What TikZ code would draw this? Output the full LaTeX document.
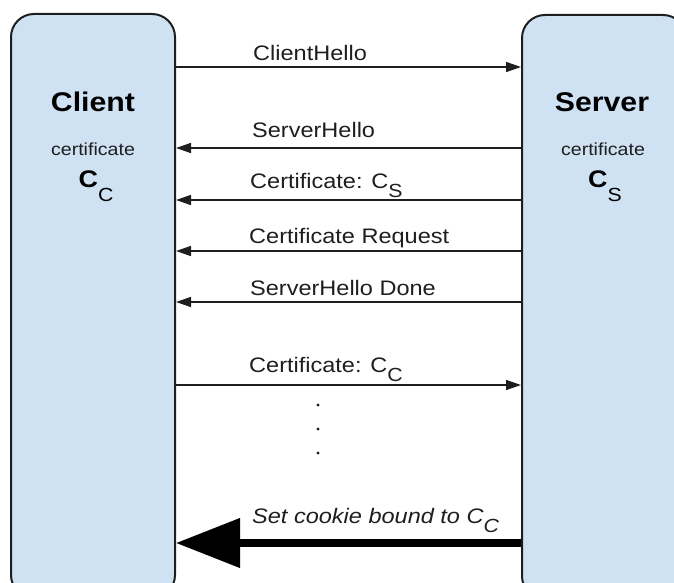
\documentclass[tikz,border=0pt]{standalone}
\usepackage{fontspec}
\setmainfont{Liberation Sans}[FakeStretch=1.12]
\usetikzlibrary{arrows.meta}

\definecolor{partyblue}{HTML}{CFE2F3}
\definecolor{inkgrey}{HTML}{1E1E1E}

% lowered subscript used in the message labels
\newcommand{\lowsub}[1]{\raisebox{-9pt}{\fontsize{19}{19}\selectfont #1}}

\begin{document}
\begin{tikzpicture}[x=1pt,y=-1pt,
    party/.style={draw=inkgrey, line width=2pt, fill=partyblue, rounded corners=23pt,
      minimum width=164pt, minimum height=584pt, inner sep=0pt},
    msg/.style={draw=inkgrey, line width=1.5pt, -{Triangle[length=15pt,width=10pt]}},
    bigmsg/.style={draw=black, line width=7.5pt, -{Triangle[length=64pt,width=48pt]}},
    msglabel/.style={anchor=base west, inner sep=0pt, text=inkgrey, font=\fontsize{21}{21}\selectfont},
    partyname/.style={anchor=base, inner sep=0pt, text=black, font=\bfseries\fontsize{27}{27}\selectfont},
    partycert/.style={anchor=base, inner sep=0pt, text=inkgrey, font=\fontsize{17.5}{17.5}\selectfont},
    partykey/.style={anchor=base, inner sep=0pt, text=black}
  ]
  \useasboundingbox (0,0) rectangle (674,583);
  \clip (0,0) rectangle (674,583);

  % the two parties
  \node[party] (client) at (93,306) {};
  \node[party] (server) at (604,307) {};

  \node[partyname] (clientname) at (93,111) {Client};
  \node[partycert] (clientcert) at (93,155) {certificate};
  \node[partykey] (clientkey) at (96,187)
    {{\bfseries\fontsize{24}{24}\selectfont C}\raisebox{-14pt}{\fontsize{19}{19}\selectfont C}};

  \node[partyname] (servername) at (602,111) {Server};
  \node[partycert] (servercert) at (603,155) {certificate};
  \node[partykey] (serverkey) at (605,187)
    {{\bfseries\fontsize{24}{24}\selectfont C}\raisebox{-14pt}{\fontsize{19}{19}\selectfont S}};

  % message heights
  \coordinate (m1) at (0,67);
  \coordinate (m2) at (0,148);
  \coordinate (m3) at (0,200);
  \coordinate (m4) at (0,251);
  \coordinate (m5) at (0,302);
  \coordinate (m6) at (0,385);
  \coordinate (m7) at (0,543);

  % handshake messages
  \draw[msg] (client.east |- m1) -- (server.west |- m1);
  \node[msglabel] (hello) at (253,61) {ClientHello};

  \draw[msg] (server.west |- m2) -- (client.east |- m2);
  \node[msglabel] (shello) at (252,138) {ServerHello};

  \draw[msg] (server.west |- m3) -- (client.east |- m3);
  \node[msglabel] (scert) at (250,188) {Certificate: C\lowsub{S}};

  \draw[msg] (server.west |- m4) -- (client.east |- m4);
  \node[msglabel] (creq) at (249,243) {Certificate Request};

  \draw[msg] (server.west |- m5) -- (client.east |- m5);
  \node[msglabel] (sdone) at (250,295) {ServerHello Done};

  \draw[msg] (client.east |- m6) -- (server.west |- m6);
  \node[msglabel] (ccert) at (249,372) {Certificate: C\lowsub{C}};

  % more messages follow
  \foreach \y in {405,429,453}
    \fill[inkgrey] (318,\y) circle (1.6pt);

  \draw[bigmsg] (server.west |- m7) -- (client.east |- m7);
  \node[msglabel, font=\itshape\fontsize{21}{21}\selectfont] (cookie) at (252,523)
    {Set cookie bound to C\lowsub{C}};
\end{tikzpicture}
\end{document}
